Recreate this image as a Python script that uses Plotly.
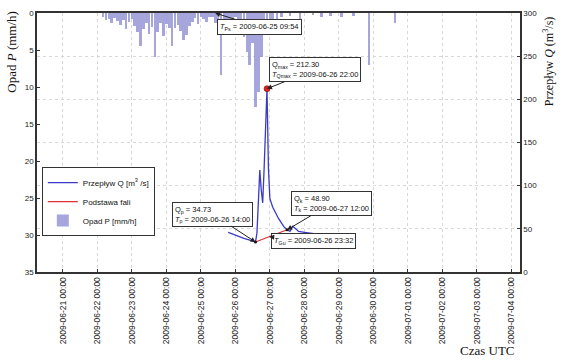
import plotly.graph_objects as go
import pandas as pd

# ---- data ----
rain_time = [
    "2009-06-22 04:00", "2009-06-22 06:00", "2009-06-22 08:00", "2009-06-22 10:00",
    "2009-06-22 12:00", "2009-06-22 14:00", "2009-06-22 16:00", "2009-06-22 18:00",
    "2009-06-22 20:00", "2009-06-22 22:00", "2009-06-23 00:00", "2009-06-23 02:00",
    "2009-06-23 04:00", "2009-06-23 06:00", "2009-06-23 08:00", "2009-06-23 10:00",
    "2009-06-23 12:00", "2009-06-23 14:00", "2009-06-23 16:00", "2009-06-23 18:00",
    "2009-06-23 20:00", "2009-06-23 22:00", "2009-06-24 00:00", "2009-06-24 02:00",
    "2009-06-24 04:00", "2009-06-24 06:00", "2009-06-24 08:00", "2009-06-24 10:00",
    "2009-06-24 12:00", "2009-06-24 14:00", "2009-06-24 16:00", "2009-06-24 18:00",
    "2009-06-24 20:00", "2009-06-24 22:00", "2009-06-25 00:00", "2009-06-25 02:00",
    "2009-06-25 04:00", "2009-06-25 06:00", "2009-06-25 08:00", "2009-06-25 10:00",
    "2009-06-25 12:00", "2009-06-25 14:00", "2009-06-25 16:00", "2009-06-25 18:00",
    "2009-06-25 20:00", "2009-06-25 22:00", "2009-06-26 00:00", "2009-06-26 02:00",
    "2009-06-26 04:00", "2009-06-26 06:00", "2009-06-26 08:00", "2009-06-26 10:00",
    "2009-06-26 12:00", "2009-06-26 14:00", "2009-06-26 16:00", "2009-06-26 18:00",
    "2009-06-26 20:00", "2009-06-26 22:00", "2009-06-27 00:00", "2009-06-27 02:00",
    "2009-06-27 05:00", "2009-06-27 08:00", "2009-06-27 14:00", "2009-06-27 21:00",
    "2009-06-28 06:00", "2009-06-28 12:00", "2009-06-28 18:00", "2009-06-29 02:00",
    "2009-06-29 10:00", "2009-06-29 21:00", "2009-06-30 15:00",
]
rain_mm = [
    0.6, 1.0, 0.8, 1.3,
    0.7, 1.1, 1.6, 0.9,
    2.1, 1.2, 0.8, 1.7,
    2.6, 4.5, 2.2, 1.4,
    2.8, 1.9, 5.9, 2.5,
    1.3, 3.1, 1.5, 2.0,
    4.4, 2.0, 1.6, 2.4,
    3.7, 3.0, 1.8, 1.2,
    0.7, 1.5, 0.5, 0.8,
    1.2, 0.5, 0.6, 1.4,
    1.1, 8.4, 1.0, 2.2,
    0.9, 1.6, 0.6, 1.9,
    1.2, 3.2, 5.3, 7.0,
    4.0, 12.7, 10.7, 5.9,
    2.0, 1.2, 0.8, 1.8,
    0.8, 0.5, 0.4, 1.2,
    0.3, 0.5, 0.4, 0.6,
    0.4, 7.0, 1.3,
]

flow_time = [
    "2009-06-25 19:00", "2009-06-25 22:00", "2009-06-26 02:00", "2009-06-26 06:00",
    "2009-06-26 10:00", "2009-06-26 14:00", "2009-06-26 15:00", "2009-06-26 16:00",
    "2009-06-26 17:00", "2009-06-26 18:00", "2009-06-26 19:00", "2009-06-26 20:00",
    "2009-06-26 21:00", "2009-06-26 22:00", "2009-06-26 23:00", "2009-06-27 00:00",
    "2009-06-27 02:00", "2009-06-27 04:00", "2009-06-27 06:00", "2009-06-27 08:00",
    "2009-06-27 10:00", "2009-06-27 12:00", "2009-06-27 14:00", "2009-06-27 16:00",
    "2009-06-27 18:00", "2009-06-27 20:00", "2009-06-28 00:00", "2009-06-28 04:00",
    "2009-06-28 08:00", "2009-06-28 12:00", "2009-06-28 16:00", "2009-06-28 20:00",
]
flow_q = [
    46, 44, 41, 39,
    37, 34.73, 45, 80,
    118, 95, 80, 120,
    170, 212.30, 120, 85,
    75, 68, 62, 57,
    52, 48.90, 47, 53,
    50, 47, 46, 45,
    44, 44, 43, 43,
]

base_time = ["2009-06-26 14:00", "2009-06-27 12:00"]
base_q = [34.73, 48.90]

peak_time = "2009-06-26 22:00"
peak_q = 212.30
t_ps = "2009-06-25 09:54"
t_gu = "2009-06-26 23:32"

tick_days = pd.date_range("2009-06-21", "2009-07-04", freq="D")
tick_labels = [d.strftime("%Y-%m-%d %H:%M") for d in tick_days]

# base-line value at T_Gu (linear interpolation along base line)
_t0, _t1 = pd.Timestamp(base_time[0]), pd.Timestamp(base_time[1])
_tg = pd.Timestamp(t_gu)
gu_q = base_q[0] + (base_q[1] - base_q[0]) * (_tg - _t0) / (_t1 - _t0)

SANS = "Liberation Sans, Arial, sans-serif"
SERIF = "Liberation Serif, Times New Roman, serif"

fig = go.Figure()

fig.add_trace(go.Scatter(
    x=flow_time, y=flow_q, mode="lines", yaxis="y2",
    line=dict(color="#3a3ac8", width=1.3),
    name="Przepływ Q [m<sup>3</sup> /s]",
))
fig.add_trace(go.Scatter(
    x=base_time, y=base_q, mode="lines", yaxis="y2",
    line=dict(color="#e03030", width=1.2),
    name="Podstawa fali",
))
fig.add_trace(go.Bar(
    x=rain_time, y=rain_mm, yaxis="y", base=0,
    width=2 * 3600 * 1000 * 0.9,
    marker=dict(color="rgba(150,150,215,0.85)", line=dict(width=0)),
    name="Opad P [mm/h]",
))
fig.add_trace(go.Scatter(
    x=[peak_time], y=[peak_q], mode="markers", yaxis="y2", showlegend=False,
    marker=dict(color="#e02020", size=6, line=dict(color="#600", width=0.5)),
))
fig.add_trace(go.Scatter(
    x=base_time, y=base_q, mode="markers", yaxis="y2", showlegend=False,
    marker=dict(color="#111", size=3),
))

box = dict(showarrow=True, arrowhead=2, arrowsize=1, arrowwidth=1, arrowcolor="#222",
           bgcolor="white", bordercolor="#333", borderwidth=1, borderpad=2,
           font=dict(family=SANS, size=7.5, color="#111"), align="left")

annotations = [
    dict(x=t_ps, y=0, xref="x", yref="y",
         text="<i>T</i><sub>Ps</sub> = 2009-06-25 09:54", ax=44, ay=14, **box),
    dict(x=peak_time, y=peak_q, xref="x", yref="y2",
         text="Q<sub>max</sub> = 212.30<br><i>T</i><sub>Qmax</sub> = 2009-06-26 22:00",
         ax=48, ay=-19, **box),
    dict(x=base_time[0], y=base_q[0], xref="x", yref="y2",
         text="Q<sub>p</sub> = 34.73<br><i>T</i><sub>p</sub> = 2009-06-26 14:00",
         ax=-43, ay=-28, **box),
    dict(x=base_time[1], y=base_q[1], xref="x", yref="y2",
         text="Q<sub>k</sub> = 48.90<br><i>T</i><sub>k</sub> = 2009-06-27 12:00",
         ax=44, ay=-26, **box),
    dict(x=t_gu, y=gu_q, xref="x", yref="y2",
         text="<i>T</i><sub>Gu</sub> = 2009-06-26 23:32", ax=44, ay=4, **box),
    dict(x=-0.052, y=0.85, xref="paper", yref="paper", xanchor="center", yanchor="middle",
         showarrow=False, textangle=-90,
         text="Opad <i>P</i> (mm/h)", font=dict(family=SERIF, size=13, color="#111")),
    dict(x=1.058, y=0.814, xref="paper", yref="paper", xanchor="center", yanchor="middle",
         showarrow=False, textangle=-90,
         text="Przepływ <i>Q</i> (m<sup>3</sup>/s)", font=dict(family=SERIF, size=12, color="#111")),
    dict(x=0.932, y=-0.305, xref="paper", yref="paper", xanchor="center", yanchor="middle",
         showarrow=False,
         text="Czas UTC", font=dict(family=SERIF, size=13, color="#111")),
]

fig.update_layout(
    width=574, height=361,
    margin=dict(l=37, r=54, t=9, b=89),
    paper_bgcolor="white", plot_bgcolor="white",
    showlegend=True,
    legend=dict(x=0.01, y=0.405, xanchor="left", yanchor="top",
                bgcolor="white", bordercolor="#333", borderwidth=1,
                font=dict(family=SANS, size=8, color="#111"),
                itemwidth=30, tracegroupgap=0),
    annotations=annotations,
    bargap=0,
    xaxis=dict(
        type="date",
        range=["2009-06-20 06:00", "2009-07-04 06:00"],
        tickmode="array", tickvals=list(tick_days), ticktext=tick_labels,
        tickangle=-90, tickfont=dict(family=SANS, size=8.5, color="#222"),
        showgrid=True, gridcolor="#d8d8d8", griddash="dot", gridwidth=1,
        showline=True, linecolor="#333", linewidth=1.5, mirror=True,
        ticks="inside", ticklen=3, tickcolor="#333", zeroline=False,
    ),
    yaxis=dict(
        range=[35, 0], tickvals=[0, 5, 10, 15, 20, 25, 30, 35],
        tickfont=dict(family=SANS, size=8, color="#222"),
        showgrid=False, showline=True, linecolor="#333", linewidth=1.5,
        ticks="inside", ticklen=3, tickcolor="#333", zeroline=False,
    ),
    yaxis2=dict(
        overlaying="y", side="right", range=[0, 300], dtick=50,
        tickfont=dict(family=SANS, size=8, color="#222"),
        showgrid=True, gridcolor="#d8d8d8", griddash="dot", gridwidth=1,
        showline=True, linecolor="#333", linewidth=1.5,
        ticks="inside", ticklen=3, tickcolor="#333", zeroline=False,
    ),
)

fig.write_html("out.html", config={"displayModeBar": False},
               post_script="document.body.style.margin='0';document.body.style.overflow='hidden';")
